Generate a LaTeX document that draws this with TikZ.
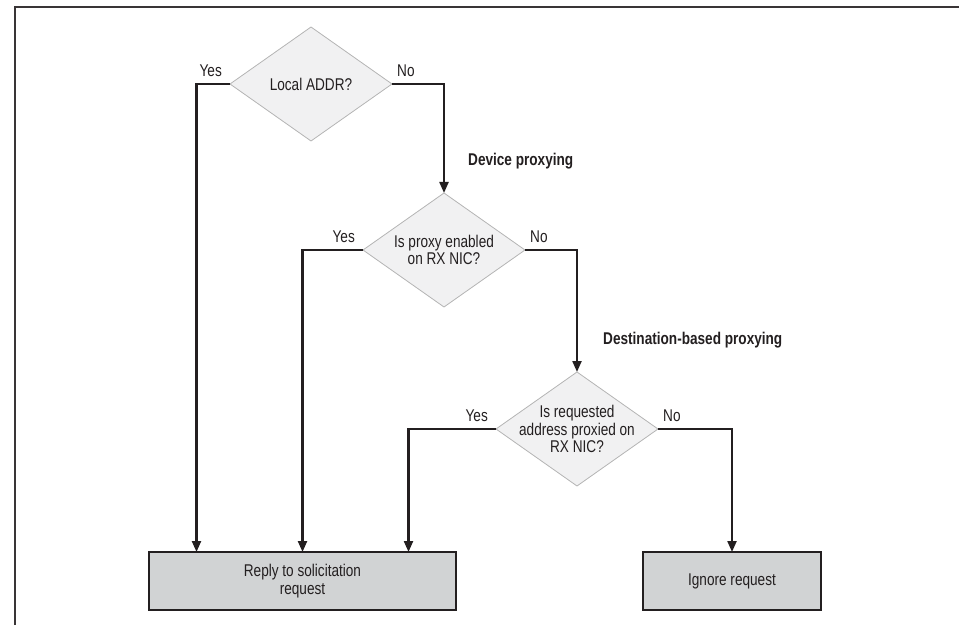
\documentclass[tikz,border=0pt]{standalone}
\usepackage{fontspec}
\setmainfont{Liberation Sans}[FakeStretch=0.8]
\usetikzlibrary{shapes.geometric, arrows.meta}
\definecolor{inkline}{HTML}{231F20}
\definecolor{askfill}{HTML}{F1F1F2}
\definecolor{askedge}{HTML}{B4B4B4}
\definecolor{endfill}{HTML}{D1D3D4}
\newcommand{\chartfont}{\fontsize{17}{17.5}\selectfont}
\tikzset{
  decision/.style = {
    diamond, draw=askedge, line width=0.8pt, fill=askfill,
    minimum width=162pt, minimum height=114pt, aspect=1.42,
    inner xsep=-20pt, inner ysep=0pt, outer sep=0pt,
    align=center, text=inkline, font=\chartfont
  },
  outcome/.style = {
    rectangle, draw=inkline, line width=1.2pt, fill=endfill,
    minimum height=58pt, inner sep=0pt, outer sep=0pt,
    align=center, text=inkline, font=\chartfont
  },
  answer/.style = { inner sep=0pt, text=inkline, font=\chartfont },
  branch/.style = {
    inner sep=0pt, anchor=west, text=inkline, font=\chartfont\bfseries
  },
  flow/.style = {
    draw=inkline, line width=2.2pt,
    -{Triangle[length=11pt, width=9pt]}
  },
  frame/.style = { draw=inkline!90, line width=1.5pt }
}

\begin{document}
\begin{tikzpicture}[x=1pt, y=1pt]

    \useasboundingbox (0,0) rectangle (959,625);

    % ------------------------------------------------------------- Frame
    \draw [frame] (15,0) -- (15,618) -- (959,618);

    % ---------------------------------------------------------- Decisions
    \node [decision] (local) at (311, 541) {Local ADDR?};
    \node [decision] (proxy) at (444, 375) {Is proxy enabled\\on RX NIC?};
    \node [decision] (dest)  at (577, 196) {Is requested\\address proxied on\\RX NIC?};

    % ----------------------------------------------------------- Outcomes
    \node [outcome, minimum width=307pt] (reply)  at (302.5, 44) {Reply to solicitation\\request};
    \node [outcome, minimum width=178pt] (ignore) at (732, 44)   {Ignore request};

    % ------------------------------------------------------ Branch labels
    \node [branch] (device_lbl) at (468, 464) {Device proxying};
    \node [branch] (dest_lbl)   at (603, 285) {Destination-based proxying};

    % ------------------------------------------------------ Yes/No labels
    \node [answer, anchor=south east] (local_yes) at ([xshift=-8pt, yshift=7pt]local.west) {Yes};
    \node [answer, anchor=south west] (local_no)  at ([xshift=5pt,  yshift=7pt]local.east) {No};
    \node [answer, anchor=south east] (proxy_yes) at ([xshift=-8pt, yshift=7pt]proxy.west) {Yes};
    \node [answer, anchor=south west] (proxy_no)  at ([xshift=5pt,  yshift=7pt]proxy.east) {No};
    \node [answer, anchor=south east] (dest_yes)  at ([xshift=-8pt, yshift=7pt]dest.west)  {Yes};
    \node [answer, anchor=south west] (dest_no)   at ([xshift=5pt,  yshift=7pt]dest.east)  {No};

    % --------------------------------------------------------- Connectors
    \draw [flow] (local.west) -| ([xshift=-106pt]reply.north);
    \draw [flow] (local.east) -| (proxy.north);
    \draw [flow] (proxy.west) -| (reply.north);
    \draw [flow] (proxy.east) -| (dest.north);
    \draw [flow] (dest.west)  -| ([xshift=106pt]reply.north);
    \draw [flow] (dest.east)  -| (ignore.north);

\end{tikzpicture}
\end{document}
